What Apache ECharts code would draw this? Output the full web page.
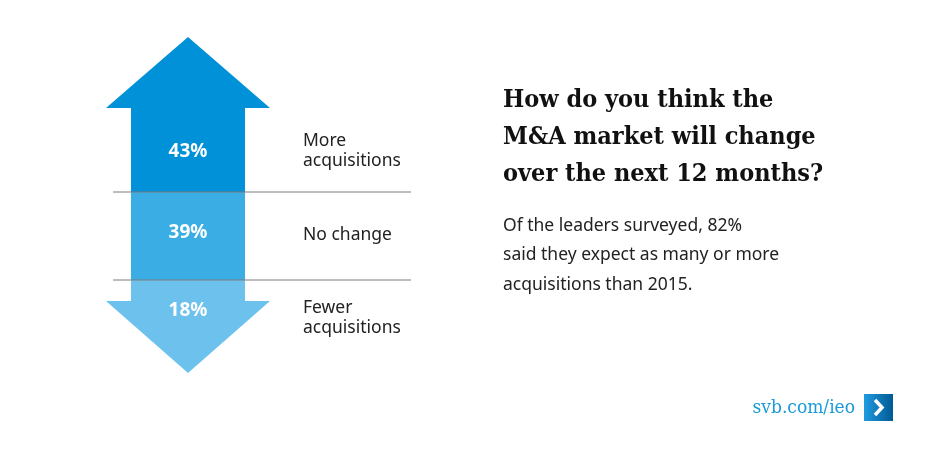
<!DOCTYPE html>
<html><head><meta charset="utf-8">
<script src="https://cdn.jsdelivr.net/npm/echarts@6/dist/echarts.min.js"></script>
<style>html,body{margin:0;padding:0;background:#fff}#c{width:928px;height:453px}</style>
</head><body><div id="c"></div>
<script>
// === DATA ===
const categories = ['More\nacquisitions', 'No change', 'Fewer\nacquisitions'];
const values = [43, 39, 18];
const colors = ['#0091d8', '#3aaee4', '#6cc2ec'];
const titleLines = ['How do you think the', 'M&A market will change', 'over the next 12 months?'];
const bodyLines = ['Of the leaders surveyed, 82%', 'said they expect as many or more', 'acquisitions than 2015.'];

const chart = echarts.init(document.getElementById('c'));
const cx = 188;
const els = [];

// arrow sections
els.push({ type: 'polygon', shape: { points: [[cx, 37], [270, 108], [245, 108], [245, 192], [131, 192], [131, 108], [106, 108]] }, style: { fill: colors[0] } });
els.push({ type: 'rect', shape: { x: 131, y: 192, width: 114, height: 88 }, style: { fill: colors[1] } });
els.push({ type: 'polygon', shape: { points: [[131, 280], [245, 280], [245, 301], [270, 301], [cx, 373], [106, 301], [131, 301]] }, style: { fill: colors[2] } });

[192, 280].forEach(y => els.push({ type: 'line', shape: { x1: 113, y1: y, x2: 411, y2: y }, style: { stroke: '#7a7a7a', lineWidth: 1 } }));

const valY = [152, 233, 311];
const labY = [151, 235, 318];
values.forEach((v, i) => {
  els.push({ type: 'text', x: cx, y: valY[i], style: { text: v + '%', fill: '#fff', font: 'bold 19px "Noto Sans"', align: 'center', verticalAlign: 'middle' } });
  els.push({ type: 'text', x: 303, y: labY[i], style: { text: categories[i], fill: '#222', font: '17.5px "Noto Sans"', lineHeight: 20, verticalAlign: 'middle' } });
});

titleLines.forEach((t, i) => els.push({ type: 'text', x: 503, y: 100 + i * 37, style: { text: t, fill: '#111', font: 'bold 25px "DejaVu Serif Condensed"', verticalAlign: 'middle' } }));
bodyLines.forEach((t, i) => els.push({ type: 'text', x: 503, y: 226 + i * 29.5, style: { text: t, fill: '#222', font: '17.5px "Noto Sans"', verticalAlign: 'middle' } }));

els.push({ type: 'text', x: 855, y: 408, style: { text: 'svb.com/ieo', fill: '#1a9ad8', font: '19px "DejaVu Serif Condensed"', align: 'right', verticalAlign: 'middle' } });
els.push({ type: 'rect', shape: { x: 864, y: 394, width: 29, height: 27 }, style: { fill: new echarts.graphic.LinearGradient(0, 0, 1, 0, [{ offset: 0, color: '#1f9be0' }, { offset: 1, color: '#005a93' }]) } });
els.push({ type: 'polyline', shape: { points: [[875, 400], [882, 407.5], [875, 415]] }, style: { stroke: '#fff', lineWidth: 3.5, fill: null } });

chart.setOption({ animation: false, graphic: { elements: els } });
</script></body></html>
